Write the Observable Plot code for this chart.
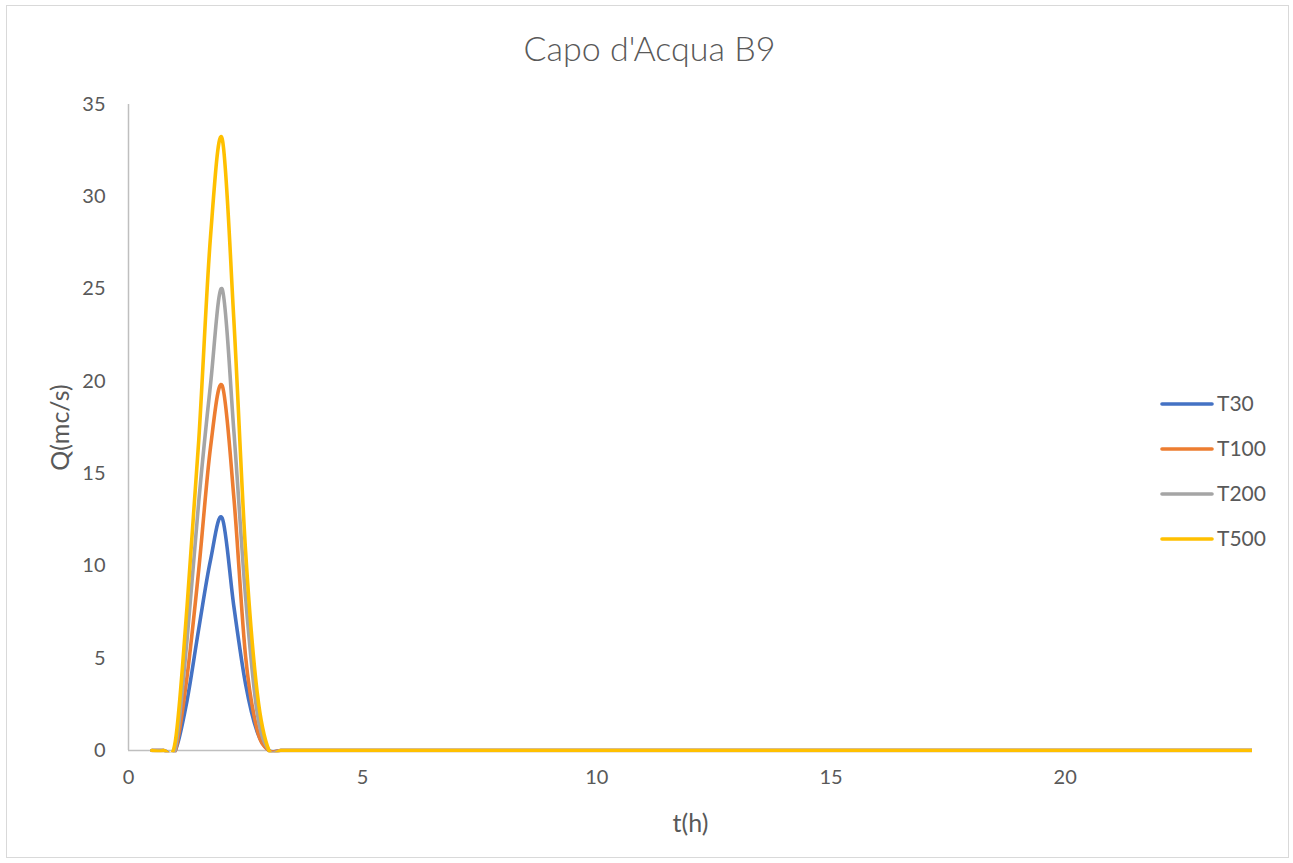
<!DOCTYPE html>
<html>
<head>
<meta charset="utf-8">
<script src="https://cdn.jsdelivr.net/npm/d3@7"></script>
<script src="https://cdn.jsdelivr.net/npm/@observablehq/plot@0.6"></script>
<style>
  body { margin: 0; background: #fff; }
  #wrap { position: relative; width: 1293px; height: 863px; overflow: hidden; }
  #border { position: absolute; left: 6px; top: 5px; width: 1283px; height: 853px; border: 1px solid #d9d9d9; box-sizing: border-box; pointer-events: none; }
</style>
</head>
<body>
<div id="wrap"><div id="border"></div></div>
<script>
// ---- data ----
const chartTitle = "Capo d'Acqua B9";
const xLabel = "t(h)";
const yLabel = "Q(mc/s)";
const seriesNames = ["T30", "T100", "T200", "T500"];
const seriesColors = ["#4472C4", "#ED7D31", "#A5A5A5", "#FFC000"];
const times = [0.5, 0.75, 1, 1.25, 1.5, 1.75, 2, 2.25, 2.5, 2.75, 3, 3.25, 3.5,
  4, 5, 6, 7, 8, 9, 10, 11, 12, 13, 14, 15, 16, 17, 18, 19, 20, 21, 22, 23, 24];
const qT30  = [0, 0, 0,   2.7, 6.6, 10.3, 12.6,  7.8, 3.6, 1.0, 0, 0, 0,
  0, 0, 0, 0, 0, 0, 0, 0, 0, 0, 0, 0, 0, 0, 0, 0, 0, 0, 0, 0, 0];
const qT100 = [0, 0, 0,   4.0, 9.8, 16.4, 19.77, 13.7, 5.1, 1.1, 0, 0, 0,
  0, 0, 0, 0, 0, 0, 0, 0, 0, 0, 0, 0, 0, 0, 0, 0, 0, 0, 0, 0, 0];
const qT200 = [0, 0, 0.1, 6.0, 13.5, 19.8, 25.0, 17.3, 8.3, 2.0, 0, 0, 0,
  0, 0, 0, 0, 0, 0, 0, 0, 0, 0, 0, 0, 0, 0, 0, 0, 0, 0, 0, 0, 0];
const qT500 = [0, 0, 0.5, 7.8, 16.8, 27.8, 33.15, 23.3, 10.8, 3.1, 0, 0, 0,
  0, 0, 0, 0, 0, 0, 0, 0, 0, 0, 0, 0, 0, 0, 0, 0, 0, 0, 0, 0, 0];
const xTicks = [0, 5, 10, 15, 20];
const yTicks = [0, 5, 10, 15, 20, 25, 30, 35];

// ---- build table ----
const seriesValues = [qT30, qT100, qT200, qT500];
const rows = seriesNames.flatMap((s, i) => times.map((t, j) => ({ t, q: seriesValues[i][j], s })));

const FONT = "Lato, 'Open Sans', sans-serif";
const TXT = "#595959";

const chart = Plot.plot({
  width: 1293,
  height: 863,
  marginLeft: 128,
  marginRight: 41,
  marginTop: 104,
  marginBottom: 113,
  style: { fontFamily: FONT, fontSize: "20px", color: TXT, background: "transparent" },
  x: { domain: [0, 24], ticks: xTicks },
  y: { domain: [0, 35], ticks: yTicks },
  color: { domain: seriesNames, range: seriesColors },
  marks: [
    Plot.ruleX([0], { stroke: "#bfbfbf", strokeWidth: 1.5 }),
    Plot.ruleY([0], { stroke: "#bfbfbf", strokeWidth: 1.5 }),
    Plot.line(rows, { x: "t", y: "q", z: "s", stroke: "s", strokeWidth: 3.6, curve: "cardinal", clip: true, strokeLinecap: "round", strokeLinejoin: "round" }),
    Plot.axisX({ ticks: xTicks, tickSize: 0, tickPadding: 19, label: null, fill: TXT, fontSize: 20 }),
    Plot.axisY({ ticks: yTicks, tickSize: 0, tickPadding: 23, label: null, fill: TXT, fontSize: 20 }),
    Plot.text([yLabel], { frameAnchor: "left", textAnchor: "middle", lineAnchor: "middle", dx: -68, rotate: -90, fontSize: 25, fill: TXT }),
    Plot.text([xLabel], { frameAnchor: "bottom", lineAnchor: "middle", dy: 73, fontSize: 25, fill: TXT }),
    Plot.text([chartTitle], { frameAnchor: "top", lineAnchor: "middle", dx: -41, dy: -54, fontSize: 34, fill: TXT, fontWeight: 300 })
  ]
});

const svg = d3.select(chart);
// let the clipped lines keep their full stroke width along the zero baseline
svg.selectAll("clipPath rect").each(function () {
  const r = d3.select(this);
  const h = +r.attr("height");
  if (!isNaN(h)) r.attr("height", h + 2.2);
});

// legend drawn inside the same SVG
const leg = svg.append("g").attr("font-family", FONT).attr("font-size", 21).attr("fill", TXT).attr("text-anchor", "start");
seriesNames.forEach((name, i) => {
  const y = 404 + i * 45;
  leg.append("line").attr("x1", 1162).attr("x2", 1212).attr("y1", y).attr("y2", y)
    .attr("stroke", seriesColors[i]).attr("stroke-width", 3.6).attr("stroke-linecap", "round");
  leg.append("text").attr("x", 1217).attr("y", y).attr("dy", "0.35em").text(name);
});

chart.style.position = "absolute";
chart.style.left = "0px";
chart.style.top = "0px";
document.getElementById("wrap").prepend(chart);
</script>
</body>
</html>
